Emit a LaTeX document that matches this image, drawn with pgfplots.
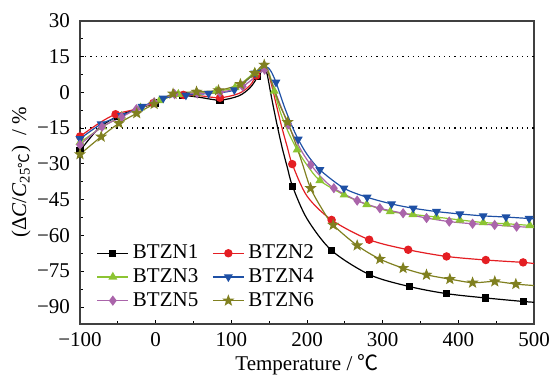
\documentclass[border=0pt]{standalone}
\usepackage{pgfplots}
\pgfplotsset{compat=1.18}
\usepackage{fontspec}
\setmainfont{Liberation Serif}
\newfontfamily\cjk{Noto Sans CJK SC}
\definecolor{cred}{RGB}{228,30,35}
\definecolor{cgreen}{RGB}{140,196,50}
\definecolor{cblue}{RGB}{30,80,165}
\definecolor{cpurple}{RGB}{170,100,170}
\definecolor{colive}{RGB}{128,128,32}
\pgfdeclareplotmark{fstar}{%
  \pgfpathmoveto{\pgfpointpolar{90}{\pgfplotmarksize}}%
  \pgfpathlineto{\pgfpointpolar{126}{0.42\pgfplotmarksize}}%
  \pgfpathlineto{\pgfpointpolar{162}{\pgfplotmarksize}}%
  \pgfpathlineto{\pgfpointpolar{198}{0.42\pgfplotmarksize}}%
  \pgfpathlineto{\pgfpointpolar{234}{\pgfplotmarksize}}%
  \pgfpathlineto{\pgfpointpolar{270}{0.42\pgfplotmarksize}}%
  \pgfpathlineto{\pgfpointpolar{306}{\pgfplotmarksize}}%
  \pgfpathlineto{\pgfpointpolar{342}{0.42\pgfplotmarksize}}%
  \pgfpathlineto{\pgfpointpolar{18}{\pgfplotmarksize}}%
  \pgfpathlineto{\pgfpointpolar{54}{0.42\pgfplotmarksize}}%
  \pgfpathclose\pgfusepathqfillstroke}
\begin{document}
\begin{tikzpicture}
\begin{axis}[
  scale only axis, width=227pt, height=151.5pt,
  xmin=-100, xmax=500, ymin=-97, ymax=30,
  xtick={-100,0,...,500}, xticklabels={−100,0,100,200,300,400,500},
  ytick={-90,-75,...,30}, yticklabels={−90,−75,−60,−45,−30,−15,0,15,30},
  minor x tick num=1, minor y tick num=1,
  tick align=inside, xtick pos=bottom, ytick pos=left,
  major tick length=2pt, minor tick length=1.3pt,
  axis line style={black!75, line width=0.8pt},
  every tick/.style={black, line width=0.5pt},
  tick label style={font=\fontsize{10.5}{12}\selectfont},
  xticklabel style={yshift=-1pt},
  yticklabel style={xshift=-1.5pt},
  label style={font=\fontsize{10.5}{12}\selectfont},
  xlabel={Temperature\ /\ {\cjk ℃}},
  ylabel={(Δ\textit{C}/\textit{C}\textsubscript{25{\cjk ℃}})\ \ /\ \%},
  xlabel style={at={(axis description cs:0.5,-0.135)}, anchor=center},
  ylabel style={at={(axis description cs:-0.13,0.5)}, anchor=center},
  legend style={draw=none, fill=none, at={(rel axis cs:0.036,0.275)}, anchor=north west,
    font=\fontsize{10.5}{12}\selectfont, inner sep=0pt, row sep=-0.6pt,
    /tikz/every even column/.append style={column sep=5pt}},
  legend columns=2, legend cell align=left,
  legend image code/.code={\draw[mark indices={2}] plot coordinates {(0pt,0pt) (7.75pt,0pt) (15.5pt,0pt)};},
  every axis plot/.append style={line width=0.6pt, smooth},
]
\addplot[black, dotted, line width=0.6pt, forget plot, sharp plot] coordinates {(-100,15) (500,15)};
\addplot[black, dotted, line width=0.6pt, forget plot, sharp plot] coordinates {(-100,-15) (500,-15)};

\addplot[black, mark=square*, mark size=1.5pt, mark indices={1,3,5,7,9,12,19,21,22,23,24,25,26}] coordinates {
(-100,-24.5) (-75,-15) (-50,-10) (-25,-7) (0,-4.5) (25,-0.8) (36,-1.2) (60,-2.2) (85,-3.3) (110,-1.5)
(125,2) (135,6.5) (143,10) (147,8) (153,-2) (160,-13) (167,-23) (174,-31.5) (181,-39.5) (200,-53)
(232.5,-66.3) (283,-76.5) (335,-81.4) (384.5,-84.4) (436,-86.2) (486.5,-87.7) (500,-88)};
\addlegendentry{BTZN1}

\addplot[cred, mark=*, mark size=1.8pt, mark indices={1,3,5,7,9,12,19,21,22,23,24,25,26}] coordinates {
(-100,-18.5) (-75,-13) (-53,-9.2) (-25,-7) (-3,-4.5) (25,-0.9) (36.5,-1.1) (60,-1.5) (85,-2.3) (110,-0.5)
(125,3) (133,7) (143,10.5) (148,9) (154,2) (160,-6) (167,-15) (174,-23) (180.5,-30.1) (200,-43.5)
(232.5,-53.5) (282.2,-61.8) (333.7,-66) (384.4,-68.8) (436.3,-70.3) (485.6,-71.3) (500,-71.8)};
\addlegendentry{BTZN2}

\addplot[cgreen, mark=triangle*, mark size=2pt, mark indices={1,2,3,4,5,6,7,8,9,10,13,16,18,19,20,21,22,23,24,25,26,27}] coordinates {
(-100,-21) (-70,-14.5) (-45,-10) (-20,-6.5) (5,-3.5) (30,-0.8) (55,-0.3) (80,0.5) (105,2) (131,8.3)
(145,11) (150,8) (156.7,0.5) (165,-8.5) (175,-16.5) (187,-24.1) (200,-30.5) (217,-37) (249,-43) (279,-47)
(310,-50) (340,-51.2) (371,-52.3) (402,-53.5) (433,-54.6) (463.6,-55.1) (494.5,-55.8) (500,-56)};
\addlegendentry{BTZN3}

\addplot[cblue, mark=triangle*, mark size=2pt, every mark/.append style={rotate=180}, mark indices={1,2,3,4,5,6,7,8,9,12,15,17,18,19,20,21,22,23,24,25,26}] coordinates {
(-100,-19.5) (-72,-13.3) (-45,-9.8) (-18,-6) (10,-2.5) (40,-1.2) (70,-0.5) (104,1) (131,8) (146,10.5)
(152,9) (159,4.2) (170,-6) (180,-14) (188.4,-19.7) (200,-26) (217,-32.5) (248.8,-40.2) (279.5,-44) (311.8,-46.8)
(340.4,-48.6) (371.2,-50) (402,-51) (432.8,-51.8) (463,-52.3) (493.5,-52.9) (500,-53)};
\addlegendentry{BTZN4}

\addplot[cpurple, mark=diamond*, mark size=2.1pt, mark indices={1,2,3,4,5,6,7,8,9,10,14,17,19,20,21,22,23,24,25,26,27}] coordinates {
(-100,-22) (-71,-14.5) (-45,-10.4) (-25.5,-7.1) (-2,-4.2) (25,-0.8) (55,-0.5) (85,0) (115,2.5) (144,9.5)
(150,7) (157,1) (165,-5.5) (175,-13.5) (185,-20) (195,-25.8) (205,-30.4) (220,-36) (235.5,-40.2) (266.3,-45.4)
(296.3,-48.6) (327,-50.7) (358,-52.7) (388,-54.2) (418.8,-55.1) (448,-55.6) (477,-56.3) (500,-56.6)};
\addlegendentry{BTZN5}

\addplot[colive, mark=fstar, mark size=2.3pt, mark indices={1,2,3,4,5,6,7,8,9,10,11,14,17,19,20,21,22,23,24,25,26,27}] coordinates {
(-100,-26) (-72,-18.6) (-48.5,-13) (-25,-8.8) (-2,-4.9) (23,-0.6) (54,0.2) (83,0.8) (112,3.4) (131,8)
(143.5,11.5) (153,4.5) (164,-5.3) (174.5,-12.5) (185,-21.5) (195,-31) (204.7,-40.2) (220,-49) (234.6,-55.6) (266.3,-64.2)
(296.3,-69.9) (327,-73.7) (357.9,-76.5) (388.8,-78.3) (418.8,-79.8) (448.2,-79.3) (476,-80.4) (500,-81)};
\addlegendentry{BTZN6}
\end{axis}
\pgfresetboundingbox
\path ([shift={(-40pt,-29.5pt)}]current axis.south west) rectangle ([shift={(8pt,10.35pt)}]current axis.north east);
\end{tikzpicture}
\end{document}
